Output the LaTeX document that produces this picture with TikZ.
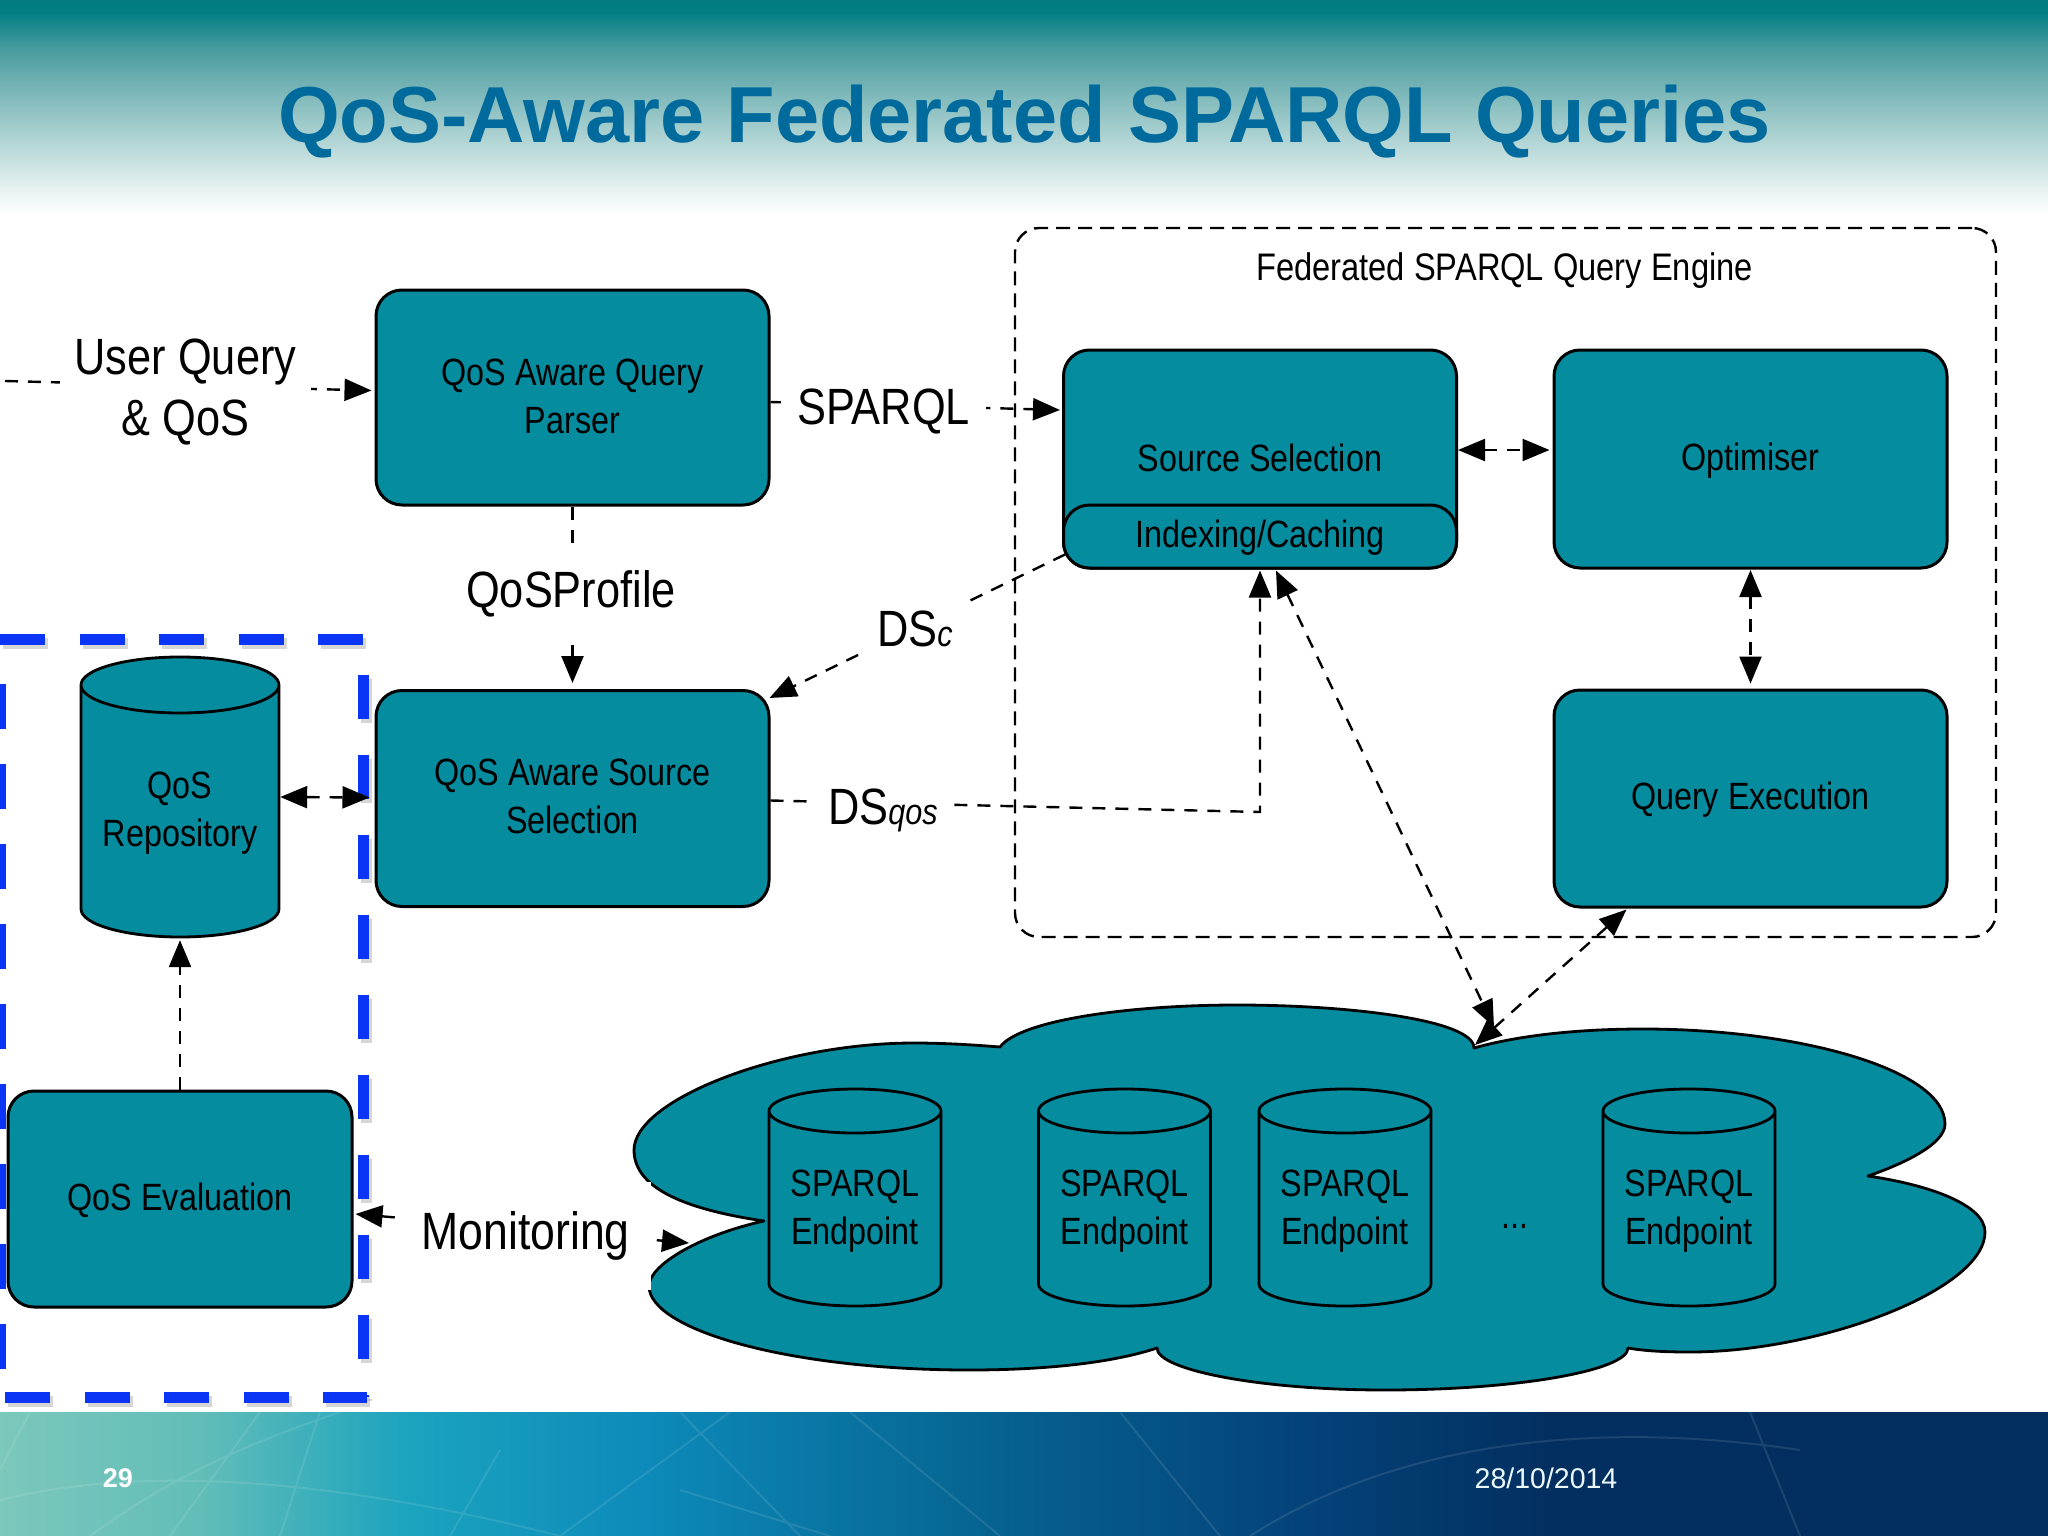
\documentclass[tikz,border=0pt]{standalone}
\usepackage{fontspec}
\setmainfont{Liberation Sans}
\newfontfamily\nar[FakeStretch=0.85]{Liberation Sans}
\usetikzlibrary{arrows.meta}
\definecolor{teal1}{HTML}{058C9F}
\definecolor{blue1}{HTML}{0A35F5}
\definecolor{title1}{HTML}{006A9C}
\definecolor{h0}{HTML}{027C80}
\definecolor{h1}{HTML}{037F83}
\definecolor{h2}{HTML}{4A9C9F}
\definecolor{h3}{HTML}{85BCBD}
\definecolor{h4}{HTML}{BCDADA}
\definecolor{h5}{HTML}{E8F2F2}
\pgfdeclareverticalshading{headshade}{100bp}{color(0bp)=(white); color(25bp)=(white); color(30.8bp)=(h5); color(40.1bp)=(h4); color(51.7bp)=(h3); color(63.4bp)=(h2); color(72bp)=(h1); color(75bp)=(h0); color(100bp)=(h0)}
\definecolor{f0}{HTML}{7CC8BB}
\definecolor{f1}{HTML}{62BDB8}
\definecolor{f2}{HTML}{1BA3BE}
\definecolor{f3}{HTML}{0D8BBA}
\definecolor{f4}{HTML}{06628F}
\definecolor{f5}{HTML}{04437A}
\definecolor{f6}{HTML}{032F60}
\pgfdeclarehorizontalshading{footshade}{100bp}{color(0bp)=(f0); color(25bp)=(f0); color(29.9bp)=(f1); color(35bp)=(f2); color(40.6bp)=(f3); color(49.4bp)=(f4); color(56.7bp)=(f5); color(62.8bp)=(f6); color(75bp)=(f6); color(100bp)=(f6)}
\tikzset{
  box/.style={draw=black,fill=teal1,line width=3pt,rounded corners=26pt,inner sep=0pt,align=center,font=\nar\fontsize{38}{48}\selectfont},
  cyltext/.style={inner sep=0pt,align=center,font=\nar\fontsize{38}{48}\selectfont},
  cylbody/.style={draw=black,fill=teal1,line width=2.8pt,line join=round},
  conn/.style={draw=black,line width=2.4pt,dash pattern=on 13pt off 10pt,-{Triangle[length=27pt,width=22pt]}},
  conn2/.style={draw=black,line width=2.4pt,dash pattern=on 13pt off 10pt,{Triangle[length=27pt,width=22pt]}-{Triangle[length=27pt,width=22pt]}},
  lab/.style={fill=white,inner sep=0pt,align=center,font=\nar\fontsize{51}{61}\selectfont},
  bluedash/.style={draw=blue1,line width=11pt},
  blueshadow/.style={draw=black!45,opacity=.35,line width=11pt,xshift=3pt,yshift=-4pt}
}
\newcommand{\cylinder}[8]{% name, cx, ytop, ybot, rx, ry, text, text offset
  \draw[cylbody] ({#2-#5},#3) -- ({#2-#5},#4) arc[start angle=180,end angle=360,x radius=#5pt,y radius=#6pt] -- ({#2+#5},#3) arc[start angle=0,end angle=180,x radius=#5pt,y radius=#6pt] arc[start angle=180,end angle=360,x radius=#5pt,y radius=#6pt];
  \node[inner sep=0pt,minimum width=#5pt*2,minimum height={(#4-#3+2*#6)*1pt}] (#1) at (#2,{(#3+#4)/2}) {};
  \node[cyltext] (#1text) at (#2,{(#3+#4)/2+#8}) {#7};
}
\begin{document}
\begin{tikzpicture}[x=1pt,y=-1pt]
\useasboundingbox (0,0) rectangle (2048,1536);
\fill[white] (0,0) rectangle (2048,1536);
\shade[shading=headshade] (0,0) rectangle (2048,215);
\shade[shading=footshade] (0,1412) rectangle (2048,1536);
\draw[white,opacity=.10,line width=2pt] (0,1500) .. controls (120,1470) and (300,1470) .. (560,1536)
  (30,1412) -- (0,1470) (90,1536) .. controls (180,1470) and (260,1440) .. (340,1412)
  (170,1536) -- (260,1412) (280,1536) -- (320,1412)
  (450,1536) -- (500,1450) (560,1536) -- (730,1412) (680,1412) -- (800,1536) (680,1490) -- (830,1536)
  (1120,1412) -- (1220,1536) (1250,1536) .. controls (1400,1440) and (1600,1420) .. (1800,1450) (1750,1412) -- (1800,1536) (850,1412) -- (1000,1536);
\node[inner sep=0pt,text=title1,font=\bfseries\fontsize{79.4}{90}\selectfont] (title) at (1024.5,122) {QoS-Aware Federated SPARQL Queries};
\node[inner sep=0pt,text=white,font=\bfseries\fontsize{27}{30}\selectfont] (page) at (118,1478) {29};
\node[inner sep=0pt,text=white!92!cyan,font=\fontsize{28.5}{32}\selectfont] (date) at (1546,1478) {28/10/2014};

% blue dashed region
\draw[blueshadow,dash pattern=on 45pt off 34.5pt] (0,639) -- (367,639);
\draw[blueshadow,dash pattern=on 44pt off 36pt] (363,675) -- (363,1397);
\draw[blueshadow,dash pattern=on 45pt off 34.5pt] (5,1397) -- (367,1397);
\draw[bluedash,dash pattern=on 45pt off 34.5pt] (0,639) -- (367,639);
\draw[bluedash,dash pattern=on 44pt off 36pt] (363,675) -- (363,1397);
\draw[bluedash,dash pattern=on 45pt off 34.5pt] (5,1397) -- (367,1397);
\draw[bluedash,dash pattern=on 45pt off 35pt] (0,684) -- (0,1392);

% engine frame
\node[draw=black,line width=2.4pt,dash pattern=on 14pt off 8pt,rounded corners=24pt,minimum width=981pt,minimum height=709pt,inner sep=0pt] (engine) at (1505.5,582.5) {};
\node[inner sep=0pt,font=\nar\fontsize{38.4}{48}\selectfont] (enginetitle) at (1504.5,271) {Federated SPARQL Query Engine};

% boxes
\node[box,minimum width=393pt,minimum height=215pt] (parser) at (572.5,397.5) {};
\node[cyltext] (parsertext) at (572.5,396) {QoS Aware Query\\Parser};
\node[box,minimum width=393pt,minimum height=216pt] (sel) at (572.5,798.5) {};
\node[cyltext] (seltext) at (572.5,796.5) {QoS Aware Source\\Selection};
\node[box,minimum width=344pt,minimum height=216pt] (eval) at (180,1199) {};
\node[cyltext] (evaltext) at (180,1200.5) {QoS Evaluation};
\node[box,minimum width=393pt,minimum height=218pt] (src) at (1260,459) {};
\node[cyltext] (srctext) at (1260,458) {Source Selection};
\node[box,minimum width=393pt,minimum height=63pt] (idx) at (1260,536.5) {};
\node[cyltext] (idxtext) at (1260,538) {Indexing/Caching};
\node[box,minimum width=393pt,minimum height=218pt] (opt) at (1750.5,459) {};
\node[cyltext] (opttext) at (1750.5,460.5) {Optimiser};
\node[box,minimum width=393pt,minimum height=217pt] (qe) at (1750.5,798.5) {};
\node[cyltext] (qetext) at (1750.5,800) {Query Execution};
\cylinder{repo}{180}{685}{909}{99}{28}{QoS\\Repository}{16}

% cloud
\draw[cylbody] (764,1221) .. controls (690,1210) and (634,1190) .. (634,1150)
  .. controls (634,1100) and (780,1043) .. (914,1043)
  .. controls (945,1043) and (975,1045) .. (1000,1047)
  .. controls (1020,1020) and (1130,1005) .. (1237,1005)
  .. controls (1350,1005) and (1474,1020) .. (1474,1048)
  .. controls (1520,1035) and (1580,1029) .. (1643,1029)
  .. controls (1800,1029) and (1945,1070) .. (1945,1124)
  .. controls (1945,1145) and (1900,1165) .. (1868,1176)
  .. controls (1930,1185) and (1985,1205) .. (1985,1232)
  .. controls (1985,1290) and (1820,1352) .. (1690,1352)
  .. controls (1665,1352) and (1645,1351) .. (1628,1348)
  .. controls (1628,1370) and (1520,1390) .. (1385,1390)
  .. controls (1260,1390) and (1157,1370) .. (1157,1348)
  .. controls (1115,1362) and (1050,1370) .. (969,1370)
  .. controls (790,1370) and (649,1330) .. (649,1286)
  .. controls (649,1265) and (700,1235) .. (764,1221) -- cycle;
\cylinder{ep1}{855}{1111}{1284}{86}{22}{SPARQL\\Endpoint}{14}
\cylinder{ep2}{1124.5}{1111}{1284}{86}{22}{SPARQL\\Endpoint}{14}
\cylinder{ep3}{1345}{1111}{1284}{86}{22}{SPARQL\\Endpoint}{14}
\cylinder{ep4}{1689}{1111}{1284}{86}{22}{SPARQL\\Endpoint}{14}
\node[cyltext] (dots) at (1515,1226) {...};

% free ends and bends
\coordinate (userin) at (5,381);
\coordinate (bend) at (1260,812);
\coordinate (cloudA) at (1494,1027);
\coordinate (cloudB) at (1475,1045);
\coordinate (cloudC) at (689,1243);

% connectors
\draw[conn] (userin) -- ([xshift=-3pt,yshift=7pt]parser.west);
\draw[conn] ([yshift=-4.5pt]parser.east) -- ([xshift=-2pt,yshift=49pt]src.west);
\draw[conn] (parser.south) -- ([yshift=6pt]sel.north);
\draw[conn] ([xshift=3pt,yshift=-18pt]idx.west) -- ([xshift=-1pt,yshift=-9pt]sel.north east);
\draw[conn] ([yshift=-2pt]sel.east) -- (bend) -- ([yshift=-1pt]idx.south);
\draw[conn2] ([xshift=16pt,yshift=-1pt]idx.south) -- (cloudA);
\draw[conn2] ([xshift=-124pt,yshift=-1pt]qe.south) -- (cloudB);
\draw[conn2] ([xshift=0pt,yshift=9pt]src.east) -- ([xshift=-3pt,yshift=9pt]opt.west);
\draw[conn2] ([yshift=-0.5pt]opt.south) -- ([yshift=5pt]qe.north);
\draw[conn2] ([xshift=1pt]repo.east) -- ([xshift=-5pt,yshift=1pt]sel.west);
\draw[conn] (eval.north) -- ([yshift=-3pt]repo.south);
\draw[conn2] ([xshift=2pt,yshift=-15pt]eval.east) -- (cloudC);

% labels (white ground)
\node[lab,minimum width=251pt,minimum height=115pt] (uq) at (185.5,392) {User Query\\\& QoS};
\node[lab,minimum width=205pt,minimum height=60pt] (sparql) at (883.5,412) {SPARQL};
\node[lab,minimum width=215pt,minimum height=102pt] (profile) at (571,594) {QoSProfile};
\node[lab,minimum width=111pt,minimum height=56pt] (dsc) at (915,629) {DS{\fontsize{36}{36}\selectfont\itshape c}};
\node[lab,minimum width=141pt,minimum height=60pt] (dsq) at (883,810) {DS{\fontsize{36}{36}\selectfont\itshape qos}};
\node[lab,minimum width=250pt,minimum height=108pt,font=\nar\fontsize{52.5}{60}\selectfont] (mon) at (525.5,1236) {Monitoring};
\end{tikzpicture}
\end{document}
